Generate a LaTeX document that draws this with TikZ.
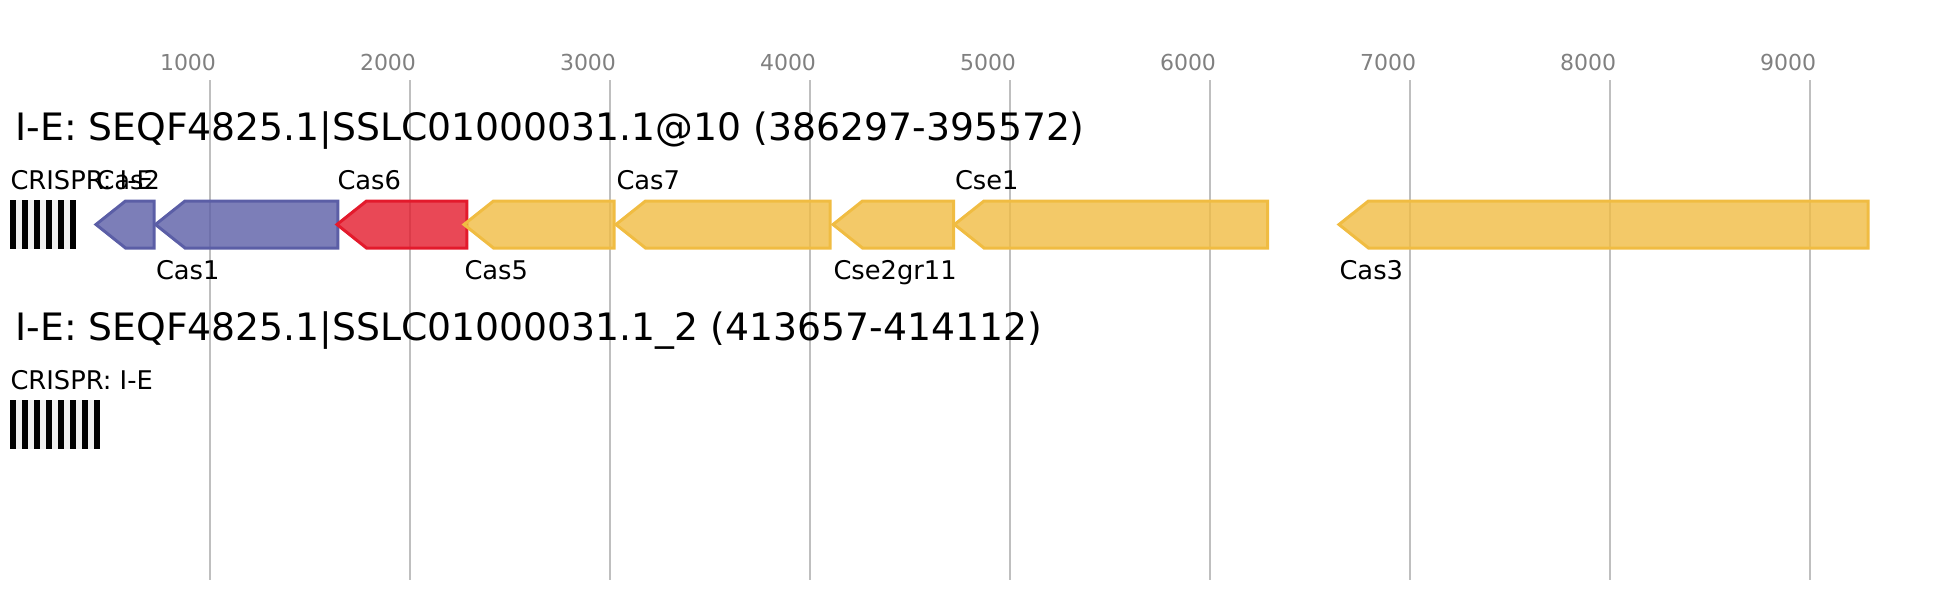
\documentclass[tikz,border=0pt]{standalone}
\usepackage{fontspec}
\setmainfont{DejaVu Sans}
\definecolor{casblue}{HTML}{5B5EA6}
\definecolor{casred}{HTML}{E31A2C}
\definecolor{casyellow}{HTML}{F0BC42}
\definecolor{gridgray}{HTML}{BFBFBF}
\definecolor{ticktext}{HTML}{808080}
\definecolor{spacergray}{HTML}{F0F0F0}
\tikzset{every picture/.style={line width=0.75pt}}
\tikzset{
  gridline/.style={draw=gridgray, line width=1.1pt},
  ticklabel/.style={text=ticktext, font=\fontsize{16.5}{19}\selectfont, inner sep=0pt, anchor=base},
  locustitle/.style={font=\fontsize{28.3}{33}\selectfont, inner sep=0pt, anchor=base west},
  genelabel/.style={font=\fontsize{19.3}{22}\selectfont, inner sep=0pt, anchor=base west},
  gene/.style={line width=2.25pt, line join=miter, fill opacity=0.8},
  bluegene/.style={gene, draw=casblue, fill=casblue},
  redgene/.style={gene, draw=casred, fill=casred},
  yellowgene/.style={gene, draw=casyellow, fill=casyellow},
  repeatbar/.style={fill=black, draw=none},
  spacerbox/.style={fill=spacergray, draw=none}
}

\begin{document}
\begin{tikzpicture}[x=0.75pt,y=0.75pt,yscale=-1,xscale=1]
	\useasboundingbox (0,0) rectangle (1955,600); %diagram is 1955 wide and 600 high

	%Straight Lines: grid
	\draw [gridline] (210,80) -- (210,580) ;
	\draw [gridline] (410,80) -- (410,580) ;
	\draw [gridline] (610,80) -- (610,580) ;
	\draw [gridline] (810,80) -- (810,580) ;
	\draw [gridline] (1010,80) -- (1010,580) ;
	\draw [gridline] (1210,80) -- (1210,580) ;
	\draw [gridline] (1410,80) -- (1410,580) ;
	\draw [gridline] (1610,80) -- (1610,580) ;
	\draw [gridline] (1810,80) -- (1810,580) ;

	% Text Node: scale
	\node [ticklabel] (tick1000) at (188,70.7) {1000};
	\node [ticklabel] (tick2000) at (388,70.7) {2000};
	\node [ticklabel] (tick3000) at (588,70.7) {3000};
	\node [ticklabel] (tick4000) at (788,70.7) {4000};
	\node [ticklabel] (tick5000) at (988,70.7) {5000};
	\node [ticklabel] (tick6000) at (1188,70.7) {6000};
	\node [ticklabel] (tick7000) at (1388,70.7) {7000};
	\node [ticklabel] (tick8000) at (1588,70.7) {8000};
	\node [ticklabel] (tick9000) at (1788,70.7) {9000};

	% Text Node
	\node [locustitle] (titleA) at (15,140) {I-E: SEQF4825.1|SSLC01000031.1@10 (386297-395572)};

	%Shape: CRISPR array
	\fill [spacerbox] (10,200) rectangle (76,249) ;
	\fill [repeatbar] (10,200) rectangle (16,249) ;
	\fill [repeatbar] (22,200) rectangle (28,249) ;
	\fill [repeatbar] (34,200) rectangle (40,249) ;
	\fill [repeatbar] (46,200) rectangle (52,249) ;
	\fill [repeatbar] (58,200) rectangle (64,249) ;
	\fill [repeatbar] (70,200) rectangle (76,249) ;
	% Text Node
	\node [genelabel] (crisprA) at (10,189) {CRISPR: I-E};

	%Shape: Polygon Cas2
	\draw [bluegene] (96,224.5) -- (125.5,201) -- (154.2,201) -- (154.2,248) -- (125.5,248) -- cycle ;
	%Shape: Polygon Cas1
	\draw [bluegene] (155.5,224.5) -- (185,201) -- (337.8,201) -- (337.8,248) -- (185,248) -- cycle ;
	%Shape: Polygon Cas6
	\draw [redgene] (337,224.5) -- (366.5,201) -- (466.8,201) -- (466.8,248) -- (366.5,248) -- cycle ;
	%Shape: Polygon Cas5
	\draw [yellowgene] (464,224.5) -- (493.5,201) -- (614.2,201) -- (614.2,248) -- (493.5,248) -- cycle ;
	%Shape: Polygon Cas7
	\draw [yellowgene] (616,224.5) -- (645.5,201) -- (830.2,201) -- (830.2,248) -- (645.5,248) -- cycle ;
	%Shape: Polygon Cse2gr11
	\draw [yellowgene] (833,224.5) -- (862.5,201) -- (953.5,201) -- (953.5,248) -- (862.5,248) -- cycle ;
	%Shape: Polygon Cse1
	\draw [yellowgene] (954.5,224.5) -- (984,201) -- (1267.5,201) -- (1267.5,248) -- (984,248) -- cycle ;
	%Shape: Polygon Cas3
	\draw [yellowgene] (1339,224.5) -- (1368.5,201) -- (1868,201) -- (1868,248) -- (1368.5,248) -- cycle ;

	% Text Node
	\node [genelabel] (lblCas2) at (96,189) {Cas2};
	% Text Node
	\node [genelabel] (lblCas6) at (337,189) {Cas6};
	% Text Node
	\node [genelabel] (lblCas7) at (616,189) {Cas7};
	% Text Node
	\node [genelabel] (lblCse1) at (954.5,189) {Cse1};
	% Text Node
	\node [genelabel] (lblCas1) at (155.5,279) {Cas1};
	% Text Node
	\node [genelabel] (lblCas5) at (464,279) {Cas5};
	% Text Node
	\node [genelabel] (lblCse2) at (833,279) {Cse2gr11};
	% Text Node
	\node [genelabel] (lblCas3) at (1339,279) {Cas3};

	% Text Node
	\node [locustitle] (titleB) at (15,340.7) {I-E: SEQF4825.1|SSLC01000031.1\_2 (413657-414112)};

	%Shape: CRISPR array
	\fill [spacerbox] (10,400) rectangle (100,449) ;
	\fill [repeatbar] (10,400) rectangle (16,449) ;
	\fill [repeatbar] (22,400) rectangle (28,449) ;
	\fill [repeatbar] (34,400) rectangle (40,449) ;
	\fill [repeatbar] (46,400) rectangle (52,449) ;
	\fill [repeatbar] (58,400) rectangle (64,449) ;
	\fill [repeatbar] (70,400) rectangle (76,449) ;
	\fill [repeatbar] (82,400) rectangle (88,449) ;
	\fill [repeatbar] (94,400) rectangle (100,449) ;
	% Text Node
	\node [genelabel] (crisprB) at (10,389.3) {CRISPR: I-E};

\end{tikzpicture}
\end{document}
